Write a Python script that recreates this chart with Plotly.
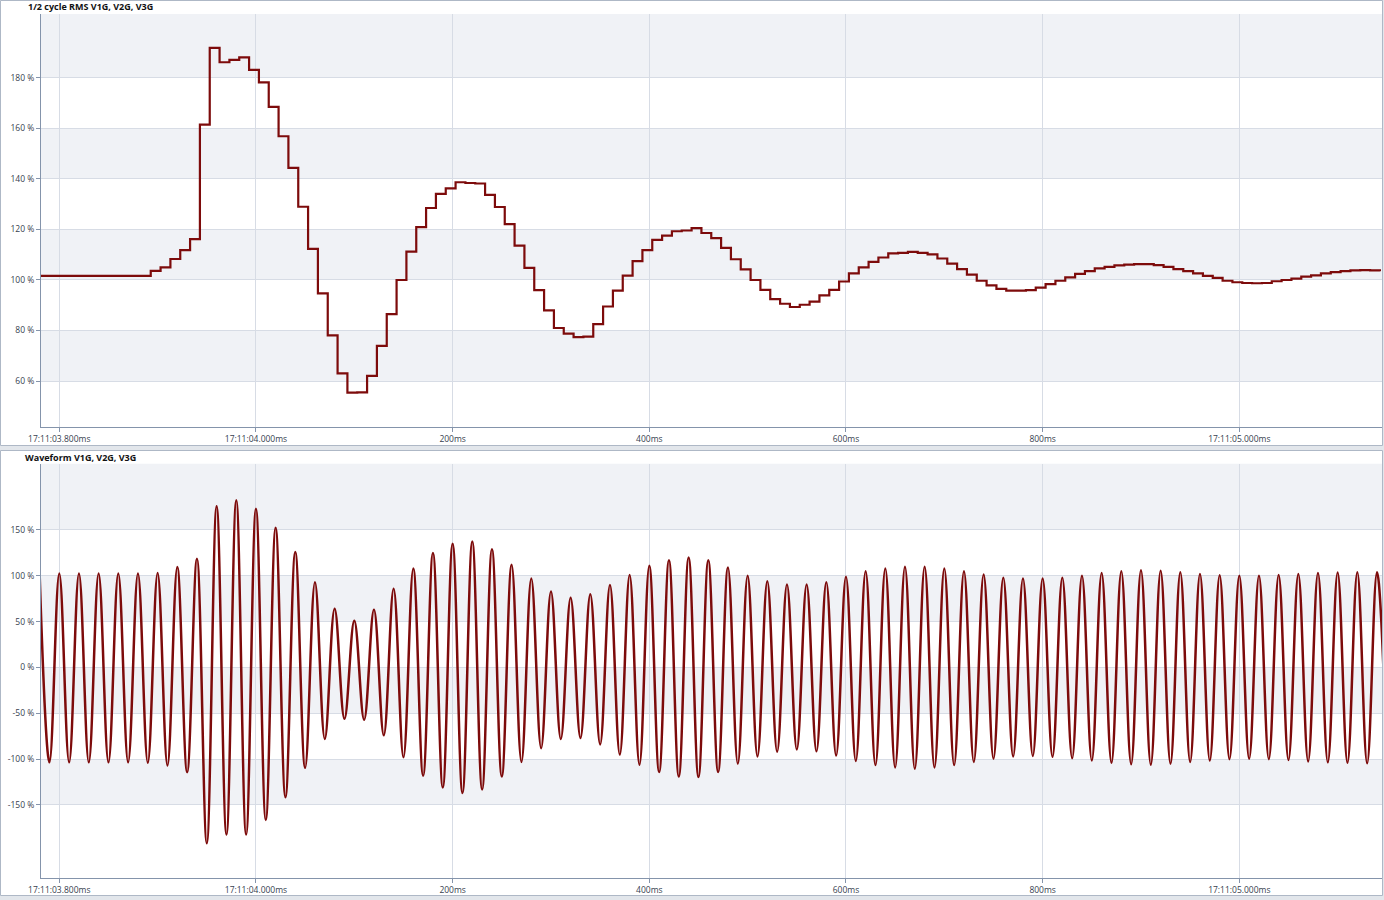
import numpy as np
import plotly.graph_objects as go

W, H = 1384, 900

# time axis in ms relative to 17:11:04.000
X_MIN, X_MAX = -218.6, 1145.1
x_tickvals = [-200, 0, 200, 400, 600, 800, 1000]
x_ticktext = ['17:11:03.800ms', '17:11:04.000ms', '200ms', '400ms', '600ms', '800ms', '17:11:05.000ms']

# 1/2 cycle RMS (%), one value per 10 ms step
rms_t0 = -227
rms_step = 10
rms_values = [
    101.6, 101.6, 101.6, 101.6, 101.6, 101.6, 101.6, 101.6, 101.6, 101.6, 101.6, 101.6,
    103.6, 105.0, 108.3, 111.8, 116.2, 161.5, 191.9, 186.2, 187.1, 188.1,
    183.2, 178.2, 168.5, 156.9, 144.4, 129.0, 112.3, 94.7, 78.1, 63.0,
    55.4, 55.5, 62.0, 73.9, 86.5, 100.0, 111.2, 120.9, 128.5, 134.1,
    136.3, 138.7, 138.4, 138.2, 133.7, 128.9, 122.1, 113.6, 104.8, 96.0,
    88.0, 81.0, 78.8, 77.4, 77.6, 82.5, 89.5, 95.8, 101.7, 107.5,
    111.8, 115.9, 117.6, 119.3, 119.6, 120.5, 118.6, 116.6, 112.7, 108.2,
    104.2, 100.0, 96.1, 92.4, 90.6, 89.3, 90.2, 91.4, 93.9, 96.1,
    99.4, 102.6, 105.0, 107.2, 108.9, 110.5, 110.7, 111.1, 110.7, 110.1,
    108.5, 106.5, 104.3, 102.1, 99.7, 97.9, 96.5, 95.8, 95.8, 96.0,
    97.0, 98.4, 99.7, 101.0, 102.4, 103.5, 104.6, 105.2, 105.8, 106.1,
    106.3, 106.3, 105.9, 105.2, 104.3, 103.5, 102.6, 101.6, 100.8, 99.7,
    99.1, 98.8, 98.7, 98.8, 99.5, 100.0, 100.5, 101.3, 101.8, 102.6,
    103.1, 103.5, 103.8, 103.9, 103.8, 103.5,
]

# waveform: positive peaks every 20 ms from -220 ms, negative peaks every 20 ms from -210 ms
wave_period = 20
pos_t0 = -220
pos_peaks = [
    102.5, 102.5, 102.5, 102.5, 102.5, 102.5, 103, 109.5, 118.6, 176,
    182.3, 173.2, 152.5, 125.9, 93.1, 64, 51, 63, 86, 108,
    125, 135, 137.5, 129, 112, 97, 83, 76, 80, 90,
    101, 111, 117, 120, 117, 109, 100, 94, 90.5, 90.5,
    93, 99, 105, 108, 110, 110, 108, 105, 101.5, 98,
    97, 97, 98, 100, 103, 105, 106, 105.5, 104, 102,
    100.5, 100, 100, 101, 102, 103, 103.5, 104, 104,
]
neg_peaks = [
    -103.5, -103.5, -103.5, -103.5, -103.5, -104, -107, -114.3, -191.8, -182.3,
    -182.3, -166.3, -141.6, -109.5, -77.9, -56, -57, -74, -98, -118,
    -131, -137, -133, -119, -103, -88, -78, -77, -84, -95,
    -106, -114, -119, -119.5, -114, -105, -97, -92, -89.5, -91.5,
    -96, -102, -106.5, -109, -110.5, -109, -106.5, -103, -99.5, -97,
    -96.5, -97.5, -99, -101.5, -104, -105.5, -106, -105, -103, -101.5,
    -100, -99.5, -100, -101, -102.5, -103.5, -104, -104.5, -104.5,
]

rms_ticks = [60, 80, 100, 120, 140, 160, 180]
rms_ticktext = ['60 %', '80 %', '100 %', '120 %', '140 %', '160 %', '180 %']
rms_bands = [(60, 80), (100, 120), (140, 160), (180, 205.3)]
wave_ticks = [-150, -100, -50, 0, 50, 100, 150]
wave_ticktext = ['-150 %', '-100 %', '-50 %', '0 %', '50 %', '100 %', '150 %']
wave_bands = [(-150, -100), (-50, 0), (50, 100), (150, 222.5)]

LINE_COLOR = '#7d0b0b'
AXIS_COLOR = '#8494ab'
GRID_COLOR = '#d7dce5'
BAND_COLOR = '#f0f2f6'
FRAME_COLOR = '#aeb8c6'
FONT = 'Open Sans, Noto Sans, sans-serif'

rms_t = rms_t0 + rms_step * np.arange(len(rms_values))

# interleave the peaks for the waveform
wave_t = []
wave_v = []
for i in range(len(pos_peaks)):
    wave_t.append(pos_t0 + wave_period * i)
    wave_v.append(pos_peaks[i])
    wave_t.append(pos_t0 + wave_period * i + wave_period / 2)
    wave_v.append(neg_peaks[i])

fig = go.Figure()
fig.add_trace(go.Scatter(
    x=rms_t, y=rms_values, mode='lines', line_shape='hv',
    line=dict(color=LINE_COLOR, width=2.2), xaxis='x', yaxis='y', showlegend=False
))
fig.add_trace(go.Scatter(
    x=wave_t, y=wave_v, mode='lines', line_shape='spline',
    line=dict(color=LINE_COLOR, width=2.5, smoothing=1.1), xaxis='x2', yaxis='y2', showlegend=False
))


def px_x(x):
    return x / W


def px_y(y):
    return 1 - y / H


shapes = []
# panel frames
for top, bottom in [(0.5, 445.5), (450.5, 895.5)]:
    shapes.append(dict(type='rect', xref='paper', yref='paper', layer='below',
                       x0=px_x(0.5), x1=px_x(1382.5), y0=px_y(bottom), y1=px_y(top),
                       fillcolor='white', line=dict(color=FRAME_COLOR, width=1)))
# alternating bands
for y0, y1 in rms_bands:
    shapes.append(dict(type='rect', xref='x', yref='y', layer='below',
                       x0=X_MIN, x1=X_MAX, y0=y0, y1=y1, fillcolor=BAND_COLOR, line_width=0))
for y0, y1 in wave_bands:
    shapes.append(dict(type='rect', xref='x2', yref='y2', layer='below',
                       x0=X_MIN, x1=X_MAX, y0=y0, y1=y1, fillcolor=BAND_COLOR, line_width=0))

axis_common = dict(
    showline=True, linecolor=AXIS_COLOR, linewidth=1,
    ticks='outside', ticklen=4, tickcolor=AXIS_COLOR,
    showgrid=True, gridcolor=GRID_COLOR, gridwidth=1, zeroline=False,
    tickfont=dict(family=FONT, size=8.5, color='#36414f'),
    fixedrange=True, automargin=False,
)

fig.update_layout(
    width=W, height=H,
    margin=dict(l=0, r=0, t=0, b=0, pad=0),
    paper_bgcolor='#e2e6eb',
    plot_bgcolor='rgba(0,0,0,0)',
    shapes=shapes,
    xaxis=dict(domain=[px_x(41), px_x(1382)], anchor='y', range=[X_MIN, X_MAX],
               tickvals=x_tickvals, ticktext=x_ticktext, **axis_common),
    yaxis=dict(domain=[px_y(427), px_y(14)], anchor='x', range=[41.8, 205.3],
               tickvals=rms_ticks, ticktext=rms_ticktext, **axis_common),
    xaxis2=dict(domain=[px_x(41), px_x(1382)], anchor='y2', range=[X_MIN, X_MAX],
                tickvals=x_tickvals, ticktext=x_ticktext, **axis_common),
    yaxis2=dict(domain=[px_y(877.5), px_y(463.5)], anchor='x2', range=[-229.1, 222.5],
                tickvals=wave_ticks, ticktext=wave_ticktext, **axis_common),
    annotations=[
        dict(text='1/2 cycle RMS V1G, V2G, V3G', xref='paper', yref='paper',
             x=px_x(26), y=px_y(7), xanchor='left', yanchor='middle', showarrow=False,
             font=dict(family=FONT, size=9, color='#111111', weight=700)),
        dict(text='Waveform V1G, V2G, V3G', xref='paper', yref='paper',
             x=px_x(23), y=px_y(457), xanchor='left', yanchor='middle', showarrow=False,
             font=dict(family=FONT, size=9, color='#111111', weight=700)),
    ],
)

fig.write_html("out.html", config={'displayModeBar': False},
               post_script="document.body.style.margin='0';")
